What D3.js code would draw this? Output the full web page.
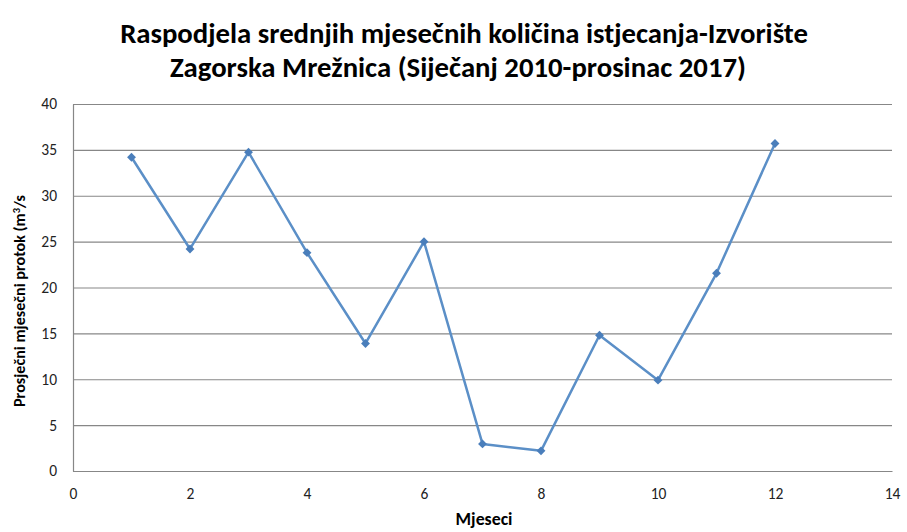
<!DOCTYPE html>
<html><head><meta charset="utf-8">
<script src="https://cdn.jsdelivr.net/npm/d3@7"></script>
<style>body{margin:0;background:#fff}svg{display:block}</style>
</head><body>
<svg id="c" width="907" height="532"></svg>
<script>
const titleLines = ["Raspodjela srednjih mjesečnih količina istjecanja-Izvorište", "Zagorska Mrežnica (Siječanj 2010-prosinac 2017)"];
const xLabel = "Mjeseci";
const yLabelMain = "Prosječni mjesečni protok (m";
const yLabelSup = "3";
const yLabelEnd = "/s";
const months = [1,2,3,4,5,6,7,8,9,10,11,12];
const flows = [34.2, 24.2, 34.75, 23.8, 13.9, 25.0, 2.95, 2.2, 14.8, 9.9, 21.55, 35.7];
const xTicks = [0,2,4,6,8,10,12,14];
const yTicks = [0,5,10,15,20,25,30,35,40];

const svg = d3.select("#c");
const m = {l:73, r:892, t:104, b:471};
const x = d3.scaleLinear().domain([0,14]).range([m.l, m.r]);
const y = d3.scaleLinear().domain([0,40]).range([m.b, m.t]);
const font = "Carlito, 'Open Sans', 'Liberation Sans', sans-serif";

function fit(sel, target){
  const w = sel.node().getComputedTextLength();
  const fs = parseFloat(sel.attr("font-size"));
  sel.attr("font-size", fs*target/w);
}

// gridlines
svg.append("g").attr("transform",`translate(${m.l},0)`)
  .call(d3.axisLeft(y).tickValues(yTicks).tickSize(-(m.r-m.l)).tickFormat(""))
  .call(g=>g.select(".domain").remove())
  .call(g=>g.selectAll("line").attr("stroke","#878787").attr("stroke-width",1.2));

// y axis
const ya = svg.append("g").attr("transform",`translate(${m.l},0)`)
  .call(d3.axisLeft(y).tickValues(yTicks).tickSize(0).tickPadding(16));
ya.select(".domain").attr("stroke","#878787").attr("stroke-width",1.2);
ya.selectAll("text").attr("font-family",font).attr("font-size",15.5).attr("fill","#222");

// x axis
const xa = svg.append("g").attr("transform",`translate(0,${m.b})`)
  .call(d3.axisBottom(x).tickValues(xTicks).tickSize(0).tickPadding(17));
xa.select(".domain").attr("stroke","#878787").attr("stroke-width",1.2);
xa.selectAll("text").attr("font-family",font).attr("font-size",15.5).attr("fill","#222");

// line
const line = d3.line().x((d,i)=>x(months[i])).y(d=>y(d));
svg.append("path").datum(flows).attr("d",line).attr("fill","none")
  .attr("stroke","#5b8fc7").attr("stroke-width",2.5).attr("stroke-linejoin","round");
svg.append("g").selectAll("path").data(flows).join("path")
  .attr("d", d3.symbol(d3.symbolDiamond2, 50))
  .attr("transform",(d,i)=>`translate(${x(months[i])},${y(d)})`)
  .attr("fill","#4a7ebb");

// title
const t1 = svg.append("text").attr("x",464).attr("y",43)
  .attr("text-anchor","middle").attr("font-family",font).attr("font-weight","bold")
  .attr("font-size",23).attr("fill","#000").text(titleLines[0]);
fit(t1, 688);
svg.append("text").attr("x",458).attr("y",77)
  .attr("text-anchor","middle").attr("font-family",font).attr("font-weight","bold")
  .attr("font-size",t1.attr("font-size")).attr("fill","#000").text(titleLines[1]);

// axis titles
const xl = svg.append("text").attr("x",484).attr("y",525).attr("text-anchor","middle")
  .attr("font-family",font).attr("font-weight","bold").attr("font-size",15).attr("fill","#000")
  .text(xLabel);
fit(xl, 57);
const yl = svg.append("text").attr("transform","translate(25,301) rotate(-90)").attr("text-anchor","middle")
  .attr("font-family",font).attr("font-weight","bold").attr("font-size",15).attr("fill","#000");
yl.append("tspan").text(yLabelMain);
yl.append("tspan").attr("font-size","0.65em").attr("dy","-0.45em").text(yLabelSup);
yl.append("tspan").attr("dy","0.3em").text(yLabelEnd);
fit(yl, 212);
</script>
</body></html>
